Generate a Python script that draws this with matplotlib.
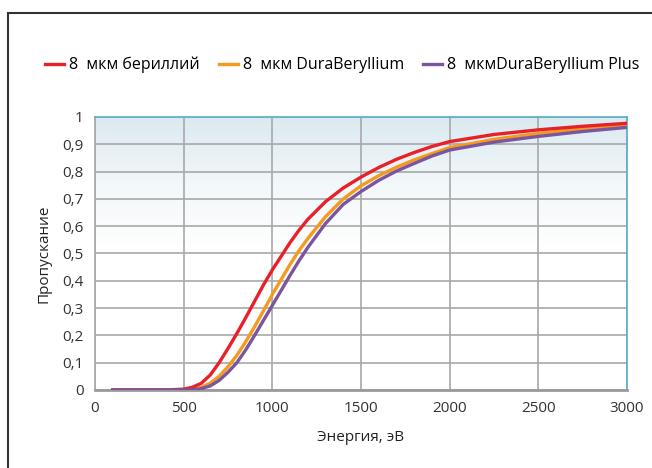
import numpy as np
import matplotlib
matplotlib.use("Agg")
import matplotlib.pyplot as plt
from matplotlib.colors import LinearSegmentedColormap
from matplotlib.patches import Rectangle
from matplotlib.ticker import FuncFormatter

plt.rcParams['font.family'] = ['Open Sans', 'DejaVu Sans']

# energies, eV
energy = [100, 200, 300, 400, 500, 550, 600, 650, 700, 750, 800, 850, 900, 950, 1000,
          1050, 1100, 1150, 1200, 1300, 1400, 1500, 1600, 1700, 1800, 1900, 2000,
          2250, 2500, 2750, 3000]

# 8 um beryllium
trans_be = [0, 0, 0, 0, 0.003, 0.01, 0.025, 0.055, 0.10, 0.152, 0.207, 0.265, 0.325, 0.385, 0.44,
            0.49, 0.54, 0.585, 0.625, 0.69, 0.74, 0.78, 0.815, 0.845, 0.87, 0.892, 0.91,
            0.936, 0.953, 0.966, 0.977]

# 8 um DuraBeryllium
trans_dura = [0, 0, 0, 0, 0, 0.003, 0.01, 0.025, 0.05, 0.085, 0.127, 0.177, 0.232, 0.29, 0.35,
              0.405, 0.46, 0.51, 0.555, 0.635, 0.70, 0.748, 0.785, 0.816, 0.843, 0.866, 0.888,
              0.918, 0.94, 0.957, 0.971]

# 8 um DuraBeryllium Plus
trans_plus = [0, 0, 0, 0, 0, 0, 0.005, 0.015, 0.035, 0.065, 0.10, 0.147, 0.20, 0.255, 0.31,
              0.365, 0.42, 0.473, 0.522, 0.61, 0.68, 0.727, 0.768, 0.802, 0.83, 0.857, 0.879,
              0.908, 0.929, 0.947, 0.962]

labels = ['8  мкм бериллий', '8  мкм DuraBeryllium', '8  мкмDuraBeryllium Plus']
colors = ['#e8202a', '#f39a1f', '#7a55a0']

fig = plt.figure(figsize=(6.52, 4.68), dpi=100)
ax = fig.add_axes([0.1457, 0.1667, 0.816, 0.5833])

# frame around the chart (cut at right and bottom)
fig.patches.append(Rectangle((8 / 652, -0.1), 2, 1.1 - 13 / 468, transform=fig.transFigure,
                             fill=False, edgecolor='#333333', linewidth=1.5))

# gradient background
grad = LinearSegmentedColormap.from_list('bg', ['#ffffff', '#ffffff', '#f3f8fa', '#dbeaf1'])
g = np.linspace(0, 1, 256).reshape(-1, 1)
g = np.clip((g - 0.25) / 0.75, 0, 1)
ax.imshow(g, extent=[0, 3000, 0, 1], origin='lower', aspect='auto', cmap=grad, zorder=0)

ax.set_xlim(0, 3000)
ax.set_ylim(0, 1)
ax.set_xticks(np.arange(0, 3001, 500))
ax.set_yticks(np.arange(0, 1.01, 0.1))
ax.yaxis.set_major_formatter(FuncFormatter(lambda v, p: ('%g' % round(v, 1)).replace('.', ',')))
ax.grid(True, color='#a8a8a8', linewidth=1.2)
ax.set_axisbelow(True)
ax.tick_params(length=0, labelsize=11, labelcolor='#333333', pad=8)

for s in ['top', 'right']:
    ax.spines[s].set_color('#5aafc7')
    ax.spines[s].set_linewidth(1.2)
ax.spines['left'].set_color('#a8a8a8')
ax.spines['left'].set_linewidth(1.2)
ax.spines['bottom'].set_color('#9a9a9a')
ax.spines['bottom'].set_linewidth(2)

l2, = ax.plot(energy, trans_dura, color=colors[1], lw=2.4, zorder=3)
l1, = ax.plot(energy, trans_be, color=colors[0], lw=2.4, zorder=4)
l3, = ax.plot(energy, trans_plus, color=colors[2], lw=2.4, zorder=5)

ax.set_xlabel('Энергия, эВ', fontsize=11, color='#222222', labelpad=10)
ax.set_ylabel('Пропускание', fontsize=11, color='#222222', labelpad=8)

fig.legend([l1, l2, l3], labels, loc='center', bbox_to_anchor=(0.525, 0.861), ncol=3,
           frameon=False, fontsize=11.5, handlelength=1.2, handletextpad=0.3,
           columnspacing=1.2)

fig.savefig('out.png', dpi=100)
